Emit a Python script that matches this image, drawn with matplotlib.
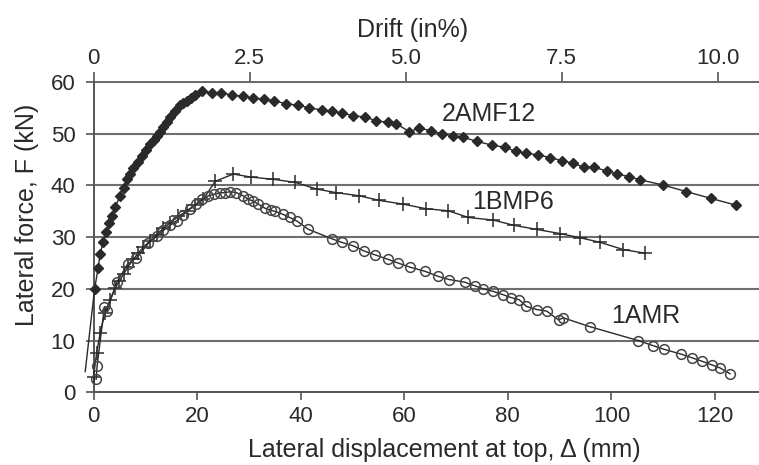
import matplotlib
matplotlib.use('Agg')
import matplotlib.pyplot as plt

plt.rcParams['font.family'] = ['Liberation Sans', 'DejaVu Sans']

# 2AMF12 (filled diamonds)
amf_x = [-1.6, 0.2, 0.9, 1.3, 1.8, 2.4, 3.0, 3.5, 4.2, 5.1, 5.8, 6.4, 7.0, 7.7, 8.5,
         9.3, 10.1, 10.9, 11.6, 12.2, 12.8, 13.4, 14.1, 14.8, 15.7, 16.7, 17.3, 18.0, 18.8, 19.6,
         20.9, 22.9, 24.7, 26.7, 28.9, 30.8, 33.0, 34.8, 37.2, 39.5, 41.7, 44.1, 46.0, 47.9, 50.2,
         52.5, 54.6, 56.9, 58.5, 61.0, 62.9, 65.1, 67.2, 69.5, 71.4, 74.1, 76.9, 79.4, 81.5, 83.6,
         85.9, 88.1, 90.4, 92.6, 94.7, 96.7, 99.1, 101.1, 103.4, 105.5, 109.9, 114.5, 119.2, 124.0]
amf_y = [4.0, 19.9, 24.1, 26.7, 29.0, 30.9, 32.8, 34.1, 35.8, 38.0, 39.6, 41.2, 42.2, 43.3, 44.6,
         45.7, 46.9, 48.0, 48.8, 49.6, 50.4, 51.3, 52.2, 53.2, 54.4, 55.5, 56.0, 56.4, 57.0, 57.5,
         58.2, 57.9, 57.9, 57.5, 57.2, 56.9, 56.7, 56.4, 55.8, 55.5, 55.0, 54.6, 54.4, 54.0, 53.5,
         53.2, 52.5, 52.2, 51.9, 50.4, 51.1, 50.6, 50.0, 49.6, 49.3, 48.5, 47.8, 47.4, 46.6, 46.2,
         45.9, 45.4, 44.8, 44.3, 43.5, 43.5, 42.8, 42.2, 41.7, 41.1, 40.1, 38.8, 37.5, 36.2]

# 1BMP6 (plus markers)
bmp_x = [0.0, 0.6, 1.3, 2.2, 3.2, 4.2, 5.0, 5.8, 6.7, 7.7, 8.6, 9.6, 10.9, 12.2, 13.5,
         14.8, 16.4, 18.0, 19.6, 21.2, 23.5, 27.0, 30.5, 34.6, 38.9, 43.1, 46.9, 51.3, 55.2, 59.7,
         64.2, 68.5, 72.4, 77.2, 81.1, 85.6, 90.0, 93.9, 97.8, 102.3, 106.5]
bmp_y = [3.0, 7.6, 11.5, 15.3, 17.9, 20.2, 21.5, 22.8, 24.3, 25.7, 26.9, 28.0, 29.3, 30.5, 31.7,
         32.8, 34.0, 35.1, 36.2, 37.3, 40.8, 42.2, 41.6, 41.2, 40.6, 39.3, 38.6, 38.0, 37.1, 36.4,
         35.5, 35.1, 33.8, 33.3, 32.3, 31.5, 30.7, 29.9, 29.0, 27.6, 26.9]

# 1AMR (open circles)
amr_x = [0.5, 0.7, 2.1, 2.6, 4.5, 6.6, 8.3, 10.6, 12.2, 13.5, 14.8, 16.1, 17.3, 18.6, 19.8,
         20.9, 22.2, 23.3, 24.4, 25.4, 26.4, 27.6, 28.9, 29.9, 30.8, 31.8, 33.1, 34.2, 35.0, 36.6,
         37.9, 39.3, 41.5, 46.0, 47.9, 50.2, 52.3, 54.3, 56.9, 58.8, 61.1, 64.0, 66.6, 68.7, 71.7,
         73.6, 75.3, 77.2, 79.0, 80.7, 82.2, 83.6, 85.6, 87.5, 89.8, 90.7, 95.8, 105.2, 108.1, 110.2,
         113.4, 115.5, 117.5, 119.4, 121.0, 122.9]
amr_y = [2.5, 5.1, 16.5, 15.8, 21.3, 24.8, 26.0, 28.8, 30.2, 31.3, 32.3, 33.2, 34.3, 35.4, 36.4,
         37.3, 38.0, 38.3, 38.6, 38.6, 38.8, 38.6, 38.0, 37.3, 37.0, 36.4, 35.6, 35.2, 35.0, 34.4,
         33.8, 33.1, 31.5, 29.7, 29.0, 28.3, 27.3, 26.6, 25.7, 25.0, 24.2, 23.4, 22.4, 21.8, 21.3,
         20.6, 20.0, 19.5, 18.9, 18.3, 17.9, 16.6, 16.0, 15.7, 14.0, 14.4, 12.7, 10.0, 9.0, 8.3,
         7.4, 6.7, 6.0, 5.3, 4.7, 3.6]

labels = ['2AMF12', '1BMP6', '1AMR']
label_pos = [(76.4, 53.8), (81.0, 36.8), (106.7, 14.7)]

drift_ticks = [0, 2.5, 5.0, 7.5, 10.0]
drift_labels = ['0', '2.5', '5.0', '7.5', '10.0']
mm_per_pct = 12.05

ink = '#2a2a2a'
W, H = 759, 465
fig = plt.figure(figsize=(W / 100, H / 100), dpi=100)
ax = fig.add_axes([93.5 / W, 1 - 392.3 / H, (W - 93.5) / W, (392.3 - 82) / H])

ax.plot(amf_x, amf_y, color=ink, lw=1.0, marker='D', ms=5, mfc=ink, mec=ink,
        markevery=slice(1, None), clip_on=False, zorder=3)
ax.plot(bmp_x, bmp_y, color=ink, lw=1.0, marker='+', ms=10, mew=1.1, clip_on=False, zorder=3)
ax.plot(amr_x, amr_y, color=ink, lw=1.0, marker='o', ms=7, mfc='none', mec='#444444',
        mew=1.1, clip_on=False, zorder=3)

for name, (lx, ly) in zip(labels, label_pos):
    ax.text(lx, ly, name, ha='center', va='center', fontsize=18, color=ink)

ax.set_xlim(0, 128.5)
ax.set_ylim(0, 60)
ax.set_xticks([0, 20, 40, 60, 80, 100, 120])
ax.set_yticks([0, 10, 20, 30, 40, 50, 60])
ax.yaxis.grid(True, color='#6e6e6e', lw=1.5)
ax.set_axisbelow(True)
for s in ['top', 'right']:
    ax.spines[s].set_visible(False)
for s in ['left', 'bottom']:
    ax.spines[s].set_color('#555555')
    ax.spines[s].set_linewidth(1.4)
ax.tick_params(axis='both', labelsize=16, colors='#555555', labelcolor=ink,
               length=6, width=1.2, direction='out')
ax.tick_params(axis='y', pad=7)
ax.tick_params(axis='x', pad=4)

top = ax.secondary_xaxis('top', functions=(lambda x: x / mm_per_pct, lambda d: d * mm_per_pct))
top.set_xticks(drift_ticks)
top.set_xticklabels(drift_labels)
top.tick_params(labelsize=16, colors='#555555', labelcolor=ink, length=7, width=1.2,
                direction='out', pad=2)
top.spines['top'].set_color('#666666')
top.spines['top'].set_linewidth(1.4)

fig.text(413 / W, 1 - 30 / H, 'Drift (in%)', ha='center', va='center', fontsize=18, color=ink)
fig.text(444 / W, 1 - 450 / H, 'Lateral displacement at top, \u0394 (mm)', ha='center',
         va='center', fontsize=18, color=ink)
fig.text(27 / W, 1 - 215 / H, 'Lateral force, F (kN)', ha='center', va='center',
         rotation=90, fontsize=18, color=ink)

fig.savefig('out.png', dpi=100)
